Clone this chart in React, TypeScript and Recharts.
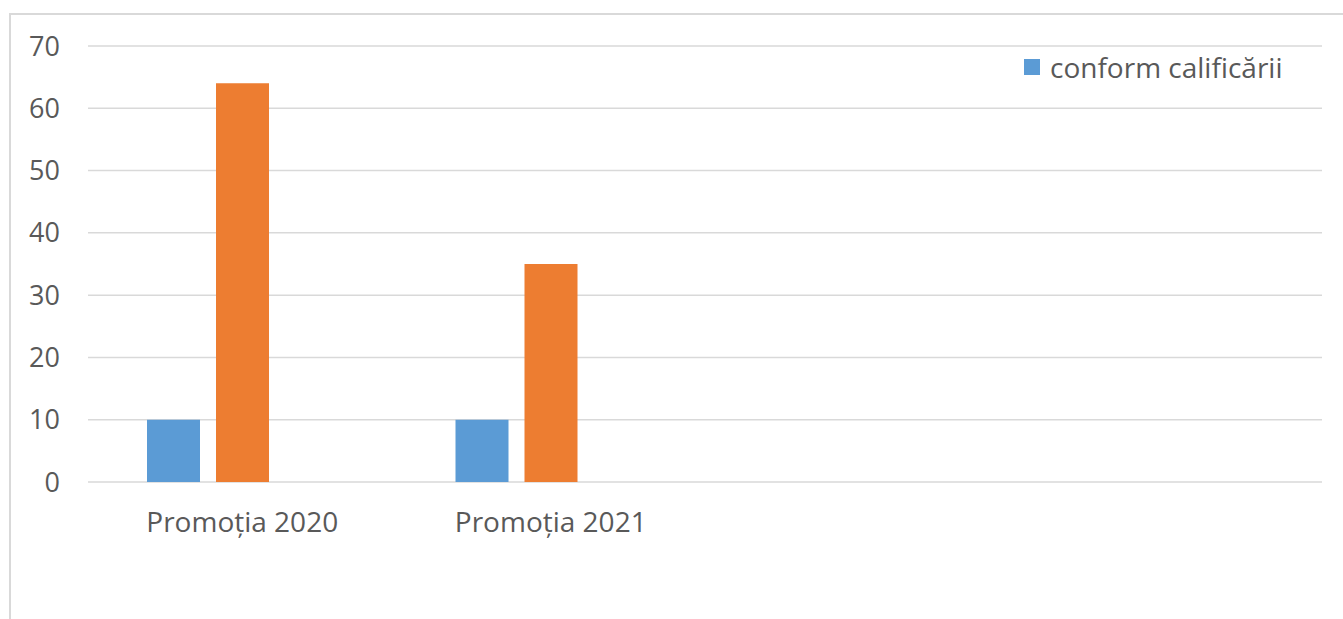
import React from 'react';
import { BarChart, Bar, XAxis, YAxis, CartesianGrid, Legend } from 'recharts';

// categories (the last two slots are empty in the original sheet)
const categories = ['Promoția 2020', 'Promoția 2021', ' ', '  '];
const conformCalificarii = [10, 10, null, null];
const seria2 = [64, 35, null, null];
const seria3 = [null, null, null, null];
const yTicks = [0, 10, 20, 30, 40, 50, 60, 70];

const data = categories.map((name, i) => ({
  name,
  a: conformCalificarii[i],
  b: seria2[i],
  c: seria3[i],
}));

const FONT = '"Open Sans", sans-serif';
const TEXT = '#595959';

const renderLegend = () => (
  <div style={{ display: 'flex', alignItems: 'center', fontFamily: FONT, fontSize: 28, color: TEXT, whiteSpace: 'nowrap' }}>
    <span style={{ width: 16, height: 16, background: '#5B9BD5', display: 'inline-block', marginRight: 10 }} />
    <span>conform calificării</span>
  </div>
);

export default function App() {
  return (
    <div style={{ position: 'absolute', left: 0, top: 0, width: 1343, height: 619, overflow: 'hidden', background: '#fff' }}>
      <div
        style={{
          position: 'absolute',
          left: 9,
          top: 13,
          width: 1500,
          height: 700,
          border: '2px solid #d9d9d9',
        }}
      />
      <BarChart
        width={1343}
        height={619}
        data={data}
        margin={{ top: 46, right: 21, left: 0, bottom: 77 }}
        barSize={53}
        barGap={16}
        style={{ position: 'absolute', left: 0, top: 0 }}
      >
        <CartesianGrid vertical={false} stroke="#d9d9d9" strokeWidth={1.5} />
        <XAxis
          dataKey="name"
          axisLine={false}
          tickLine={false}
          height={60}
          tickMargin={24}
          interval={0}
          tick={{ fill: TEXT, fontSize: 28, fontFamily: FONT }}
        />
        <YAxis
          width={88}
          domain={[0, 70]}
          ticks={yTicks}
          axisLine={false}
          tickLine={false}
          tickMargin={22}
          tick={{ fill: TEXT, fontSize: 27, fontFamily: FONT }}
        />
        <Legend
          layout="vertical"
          align="center"
          verticalAlign="middle"
          content={renderLegend}
          wrapperStyle={{ position: 'absolute', left: 1024, top: 48, width: 'auto' }}
        />
        <Bar dataKey="a" name="conform calificării" fill="#5B9BD5" isAnimationActive={false} />
        <Bar dataKey="b" name="seria 2" fill="#ED7D31" legendType="none" isAnimationActive={false} />
        <Bar dataKey="c" name="seria 3" fill="#A5A5A5" legendType="none" isAnimationActive={false} />
      </BarChart>
    </div>
  );
}
